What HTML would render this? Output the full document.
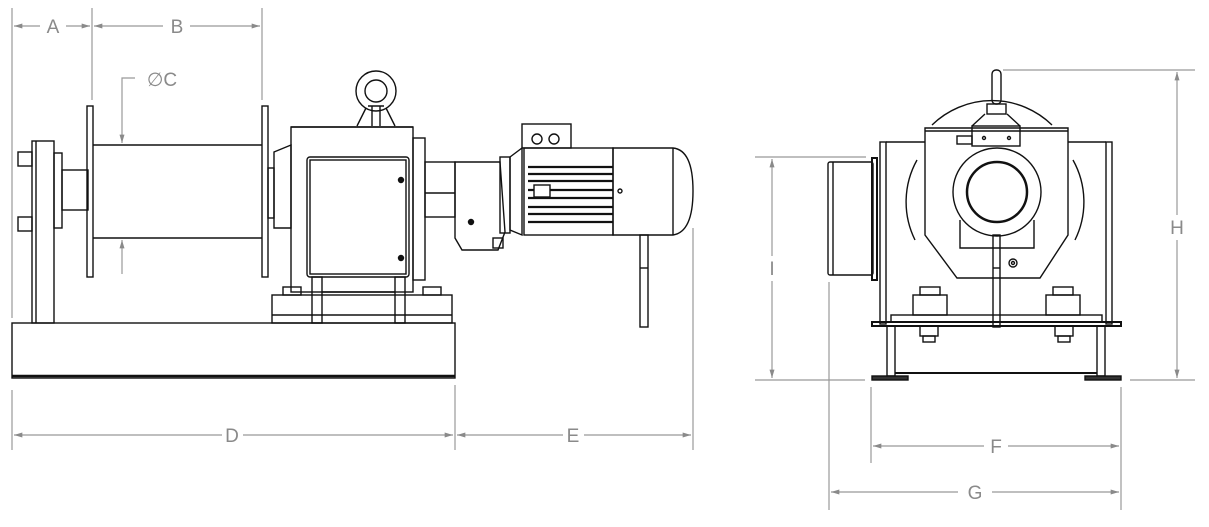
<!DOCTYPE html>
<html><head><meta charset="utf-8"><style>
html,body{margin:0;padding:0;background:#fff;}
svg{display:block}
text{font-family:"Liberation Sans",sans-serif;font-size:19px;fill:#8a8a8a;text-anchor:middle}
</style></head><body>
<svg width="1209" height="527" viewBox="0 0 1209 527" xmlns="http://www.w3.org/2000/svg">
<defs>
<marker id="ar" viewBox="0 0 10 6" refX="10" refY="3" markerWidth="14" markerHeight="5" orient="auto-start-reverse" markerUnits="userSpaceOnUse"><path d="M0,0 L10,3 L0,6z" fill="#8a8a8a"/></marker>
</defs>
<!-- dimensions -->
<g stroke="#999" stroke-width="1.2" fill="none">
<line x1="12" y1="8" x2="12" y2="318"/>
<line x1="92" y1="8" x2="92" y2="100"/>
<line x1="262" y1="8" x2="262" y2="100"/>
<line x1="14" y1="26" x2="40" y2="26" marker-start="url(#ar)"/>
<line x1="66" y1="26" x2="90" y2="26" marker-end="url(#ar)"/>
<line x1="94" y1="26" x2="163" y2="26" marker-start="url(#ar)"/>
<line x1="190" y1="26" x2="260" y2="26" marker-end="url(#ar)"/>
<polyline points="135,78 122,78 122,143" marker-end="url(#ar)"/>
<line x1="122" y1="274" x2="122" y2="240" marker-end="url(#ar)"/>
<line x1="12" y1="390" x2="12" y2="450"/>
<line x1="455" y1="385" x2="455" y2="450"/>
<line x1="693" y1="228" x2="693" y2="450"/>
<line x1="14" y1="435" x2="222" y2="435" marker-start="url(#ar)"/>
<line x1="243" y1="435" x2="453" y2="435" marker-end="url(#ar)"/>
<line x1="457" y1="435" x2="563" y2="435" marker-start="url(#ar)"/>
<line x1="584" y1="435" x2="691" y2="435" marker-end="url(#ar)"/>
<!-- right view -->
<line x1="1003" y1="70" x2="1195" y2="70"/>
<line x1="1130" y1="380" x2="1195" y2="380"/>
<line x1="1177" y1="72" x2="1177" y2="215" marker-start="url(#ar)"/>
<line x1="1177" y1="240" x2="1177" y2="378" marker-end="url(#ar)"/>
<line x1="755" y1="157" x2="866" y2="157"/>
<line x1="755" y1="380" x2="865" y2="380"/>
<line x1="772" y1="159" x2="772" y2="256" marker-start="url(#ar)"/>
<line x1="772" y1="281" x2="772" y2="378" marker-end="url(#ar)"/>
<line x1="871" y1="387" x2="871" y2="463"/>
<line x1="1121" y1="387" x2="1121" y2="510"/>
<line x1="829" y1="282" x2="829" y2="510"/>
<line x1="873" y1="446" x2="984" y2="446" marker-start="url(#ar)"/>
<line x1="1008" y1="446" x2="1119" y2="446" marker-end="url(#ar)"/>
<line x1="831" y1="492" x2="958" y2="492" marker-start="url(#ar)"/>
<line x1="992" y1="492" x2="1119" y2="492" marker-end="url(#ar)"/>
</g>
<text x="53" y="33">A</text>
<text x="177" y="33">B</text>
<text x="162" y="86">∅C</text>
<text x="232" y="442">D</text>
<text x="573" y="442">E</text>
<text x="1177" y="234">H</text>
<text x="772" y="275">I</text>
<text x="996" y="453">F</text>
<text x="975" y="499">G</text>

<!-- side view machine -->
<g stroke="#111" stroke-width="1.4" fill="none">
<rect x="12" y="323" width="443" height="55"/>
<line x1="12" y1="376" x2="455" y2="376" stroke-width="2.5"/>
<rect x="32" y="141" width="22" height="182"/>
<line x1="36" y1="141" x2="36" y2="323"/>
<rect x="18" y="152" width="14" height="14"/><rect x="18" y="217" width="14" height="14"/>
<rect x="54" y="153" width="8" height="75"/>
<rect x="62" y="170" width="26" height="40"/>
<rect x="87" y="106" width="6" height="171"/>
<rect x="262" y="106" width="6" height="171"/>
<line x1="93" y1="145" x2="262" y2="145"/>
<line x1="93" y1="238" x2="262" y2="238"/>
<rect x="268" y="168" width="6" height="50"/>
<path d="M274,152 L291,145 L291,228 L274,228z"/>
<rect x="291" y="127" width="122" height="165"/>
<path d="M291,127 L413,127"/>
<circle cx="376" cy="91" r="20"/><circle cx="376" cy="91" r="11"/>
<path d="M366,108 L357,126 M386,108 L395,126 M368,106 L384,106 M372,106 L372,126 M380,106 L380,126"/>
<rect x="307" y="157" width="102" height="120" rx="3"/>
<rect x="310" y="160" width="96" height="114"/>
<circle cx="401" cy="180" r="2.5" fill="#111"/><circle cx="401" cy="258" r="2.5" fill="#111"/>
<rect x="413" y="138" width="12" height="142"/>
<rect x="272" y="295" width="180" height="28"/>
<line x1="272" y1="315" x2="452" y2="315"/>
<rect x="283" y="287" width="18" height="8"/><rect x="423" y="287" width="18" height="8"/>
<rect x="312" y="277" width="10" height="46"/><rect x="395" y="277" width="10" height="46"/>
<line x1="322" y1="292" x2="395" y2="292"/>
<!-- coupling & gear unit -->
<rect x="425" y="162" width="30" height="55"/>
<line x1="425" y1="193" x2="455" y2="193"/>
<path d="M455,162 L500,162 L505,232 L498,250 L462,250 L455,238z"/>
<rect x="493" y="238" width="10" height="10"/>
<circle cx="471" cy="222" r="2.5" fill="#111"/>
<rect x="500" y="157" width="10" height="76"/>
<path d="M510,157 L522,148 L522,235 L510,230z"/>
<!-- motor -->
<rect x="522" y="124" width="49" height="24"/>
<circle cx="537" cy="139" r="5"/><circle cx="554" cy="139" r="5"/>
<rect x="524" y="148" width="89" height="87"/>
<g stroke-width="2.2">
<line x1="528" y1="167" x2="613" y2="167"/><line x1="528" y1="174" x2="613" y2="174"/>
<line x1="528" y1="181" x2="613" y2="181"/><line x1="528" y1="190" x2="613" y2="190"/>
<line x1="528" y1="198" x2="613" y2="198"/><line x1="528" y1="207" x2="613" y2="207"/>
<line x1="528" y1="214" x2="613" y2="214"/><line x1="528" y1="222" x2="613" y2="222"/>
</g>
<rect x="534" y="185" width="16" height="12" fill="#fff"/>
<path d="M613,148 L673,148 Q693,150 693,191 Q693,232 673,235 L613,235z"/>
<line x1="673" y1="148" x2="673" y2="235"/>
<circle cx="620" cy="191" r="2"/>
<rect x="640" y="235" width="8" height="92"/>
<line x1="640" y1="268" x2="648" y2="268"/>
</g>

<!-- front view -->
<g stroke="#111" stroke-width="1.4" fill="none">
<path d="M932,125 A86,86 0 0 1 1052,125"/>
<path d="M917,160 A86,86 0 0 0 915,240 M1073,160 A86,86 0 0 1 1075,240"/>
<rect x="828" y="162" width="45" height="113" rx="2"/>
<line x1="833" y1="162" x2="833" y2="275"/>
<rect x="872" y="158" width="5" height="122" stroke-width="2"/>
<rect x="880" y="142" width="6" height="182"/>
<rect x="1106" y="142" width="6" height="182"/>
<line x1="886" y1="142" x2="925" y2="142"/><line x1="1068" y1="142" x2="1106" y2="142"/>
<path d="M925,128 L1068,128 L1068,235 L1040,278 L957,278 L925,235z"/>
<line x1="925" y1="131" x2="1068" y2="131"/>
<circle cx="997" cy="192" r="44"/>
<circle cx="997" cy="192" r="30" stroke-width="2.5"/>
<path d="M960,220 L960,248 L1034,248 L1034,220"/>
<circle cx="1013" cy="263" r="4"/><circle cx="1013" cy="263" r="1.5"/>
<rect x="993" y="235" width="7" height="92"/>
<line x1="993" y1="268" x2="1000" y2="268"/>
<rect x="992" y="70" width="9" height="34" rx="4"/>
<rect x="987" y="104" width="19" height="10"/>
<rect x="972" y="126" width="48" height="20"/>
<path d="M972,126 L985,114 M1020,126 L1007,114"/>
<rect x="957" y="136" width="15" height="8"/>
<circle cx="984" cy="138" r="1.5"/><circle cx="1009" cy="138" r="1.5"/>
<rect x="913" y="295" width="34" height="20"/><rect x="1046" y="295" width="34" height="20"/>
<rect x="920" y="287" width="20" height="8"/><rect x="1053" y="287" width="20" height="8"/>
<rect x="891" y="315" width="211" height="7"/>
<rect x="872" y="322" width="249" height="4" stroke-width="2"/>
<rect x="920" y="326" width="18" height="10"/><rect x="923" y="336" width="12" height="6"/>
<rect x="1055" y="326" width="18" height="10"/><rect x="1058" y="336" width="12" height="6"/>
<rect x="887" y="326" width="8" height="50"/><rect x="1097" y="326" width="8" height="50"/>
<line x1="895" y1="373" x2="1097" y2="373" stroke-width="2"/>
<rect x="872" y="376" width="36" height="4" fill="#333"/>
<rect x="1085" y="376" width="36" height="4" fill="#333"/>
</g>
</svg>
</body></html>
